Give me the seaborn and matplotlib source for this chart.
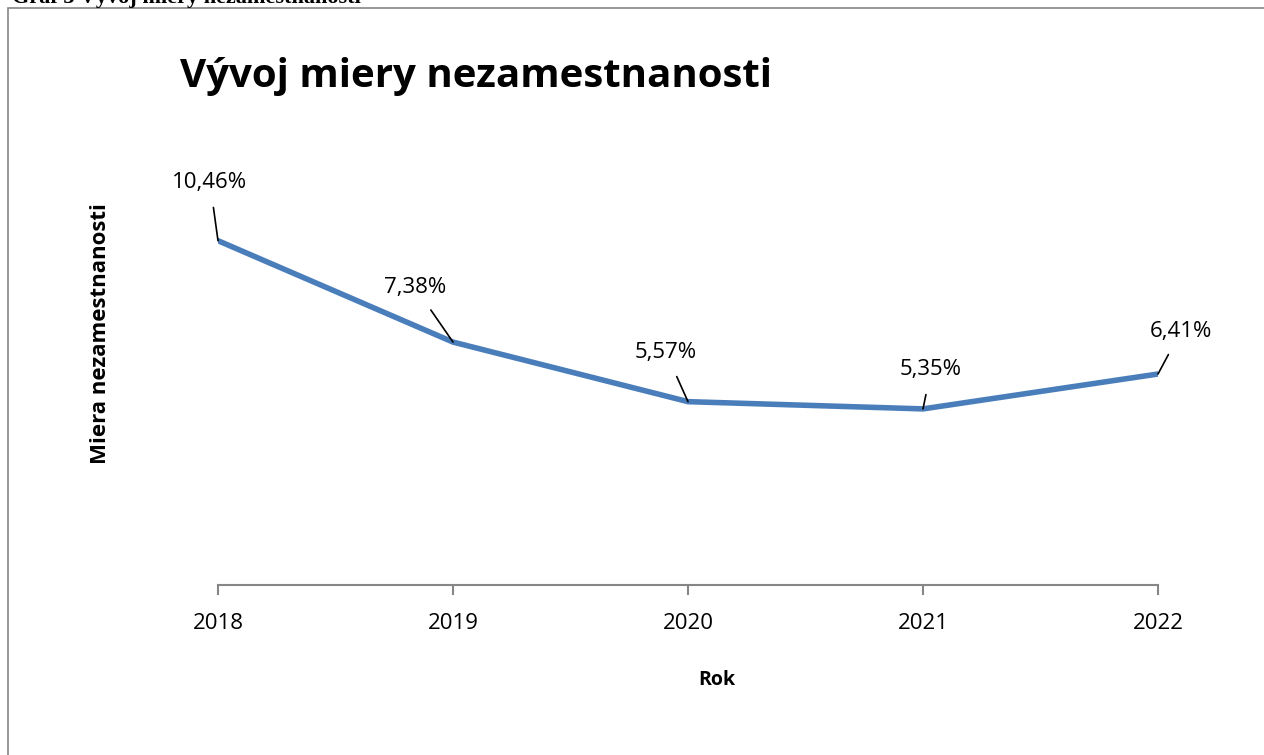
import matplotlib
matplotlib.use("Agg")
import matplotlib.pyplot as plt
import seaborn as sns
import pandas as pd
from matplotlib.patches import Rectangle

# data
years = [2018, 2019, 2020, 2021, 2022]
rates = [10.46, 7.38, 5.57, 5.35, 6.41]
labels = ["10,46%", "7,38%", "5,57%", "5,35%", "6,41%"]
# label offsets (pixels) from each point
offsets = [(-8, 58), (-38, 55), (-22, 49), (8, 39), (23, 43)]

df = pd.DataFrame({"Rok": years, "Miera": rates})

sns.set_style("white")
plt.rcParams['font.family'] = ['Open Sans', 'DejaVu Sans']
plt.rcParams['text.color'] = 'black'
plt.rcParams['xtick.color'] = 'black'

fig = plt.figure(figsize=(12.64, 7.55), dpi=100)
ax = fig.add_axes([218 / 1264, 170 / 755, 940 / 1264, 395 / 755])

sns.lineplot(data=df, x="Rok", y="Miera", ax=ax, color="#4A7EBB",
             linewidth=4.0, solid_joinstyle="miter")

for x, y, lab, off in zip(years, rates, labels, offsets):
    ax.annotate(lab, xy=(x, y), xytext=off, textcoords="offset pixels",
                ha="center", va="center", fontsize=16, color="black",
                arrowprops=dict(arrowstyle="-", color="black", lw=1.2,
                                shrinkA=8, shrinkB=0))

ax.set_xlim(2018, 2022)
ax.set_ylim(0, 12)
ax.set_xticks(years)
ax.set_xticklabels([str(y) for y in years], fontsize=16, color="black")
ax.set_yticks([])
ax.tick_params(axis="x", bottom=True, direction="out", length=7, width=1.5,
               color="#868686", pad=13)

for s in ["top", "right", "left"]:
    ax.spines[s].set_visible(False)
ax.spines["bottom"].set_color("#868686")
ax.spines["bottom"].set_linewidth(1.5)

ax.set_xlabel("")
ax.set_ylabel("")
fig.text(717 / 1264, 1 - 680 / 755, "Rok", ha="center", va="center",
         fontsize=14, fontweight="bold")
fig.text(100 / 1264, 1 - 334 / 755, "Miera nezamestnanosti", rotation=90,
         ha="center", va="center", fontsize=16, fontweight="bold")

fig.text(180 / 1264, 1 - 76 / 755, "Vývoj miery nezamestnanosti",
         ha="left", va="center", fontsize=29, fontweight="bold")

# clipped caption and frame at the top
fig.text(12 / 1264, 1 + 2 / 755, "Graf 3 Vývoj miery nezamestnanosti",
         ha="left", va="center", fontsize=16, fontweight="bold",
         family="Liberation Serif")
fig.patches.append(Rectangle((8 / 1264, -0.1), 1.2, 1.1 - 8 / 755,
                             transform=fig.transFigure, fill=False,
                             edgecolor="#868686", linewidth=1.2))

fig.savefig("out.png", dpi=100)
